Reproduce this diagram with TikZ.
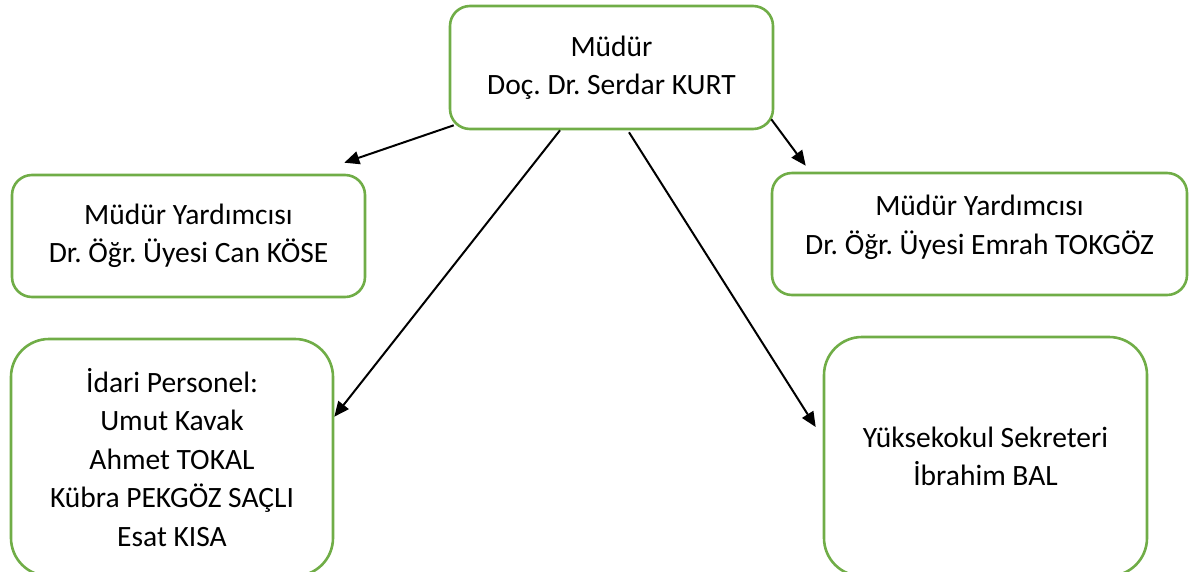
\documentclass[tikz,border=0pt]{standalone}
\usepackage{fontspec}
\setmainfont{Carlito}
\usepackage{tikz}
\usetikzlibrary{positioning, arrows.meta}
\definecolor{boxg}{RGB}{112,173,71}
\frenchspacing

\begin{document}
\begin{tikzpicture}[x=1pt, y=-1pt,
          bx/.style={draw=boxg, line width=2.6pt, rounded corners=20pt,
            align=center, inner sep=0pt, font=\fontsize{29.5}{38.5}\selectfont},
          bigbx/.style={bx, rounded corners=38pt},
          arr/.style={-{Triangle[length=15pt, width=13pt]}, line width=2pt}]
        \useasboundingbox (0,0) rectangle (1190,571);
        \node[bx, minimum width=323pt, minimum height=123pt] (mudur) at (611.5,67.5)
          {Müdür\\Doç. Dr. Serdar KURT};
        \node[bx, minimum width=353pt, minimum height=122pt] (yrd1) at (188.5,236)
          {Müdür Yardımcısı\\Dr. Öğr. Üyesi Can KÖSE};
        \node[bx, minimum width=415pt, minimum height=122pt,
          text depth=18pt] (yrd2) at (979.5,234)
          {Müdür Yardımcısı\\Dr. Öğr. Üyesi Emrah TOKGÖZ};
        \node[bigbx, minimum width=322pt, minimum height=237pt] (idari) at (172,457.5)
          {İdari Personel:\\Umut Kavak\\Ahmet TOKAL\\Kübra PEKGÖZ SAÇLI\\Esat KISA};
        \node[bigbx, minimum width=323pt, minimum height=239pt] (sekr) at (985.5,456.5)
          {Yüksekokul Sekreteri\\İbrahim BAL};
        \draw [arr] ([xshift=5pt, yshift=5pt]mudur.south west) to ([xshift=-22pt, yshift=11pt]yrd1.north east);
        \draw [arr] ([xshift=-3pt, yshift=11pt]mudur.south east) to ([xshift=35pt, yshift=6pt]yrd2.north west);
        \draw [arr] ([xshift=-51.5pt]mudur.south) to ([yshift=-79pt]idari.north east);
        \draw [arr] ([xshift=17.5pt, yshift=-2pt]mudur.south) to ([xshift=-7pt, yshift=29.5pt]sekr.west);
      \end{tikzpicture}
\end{document}
